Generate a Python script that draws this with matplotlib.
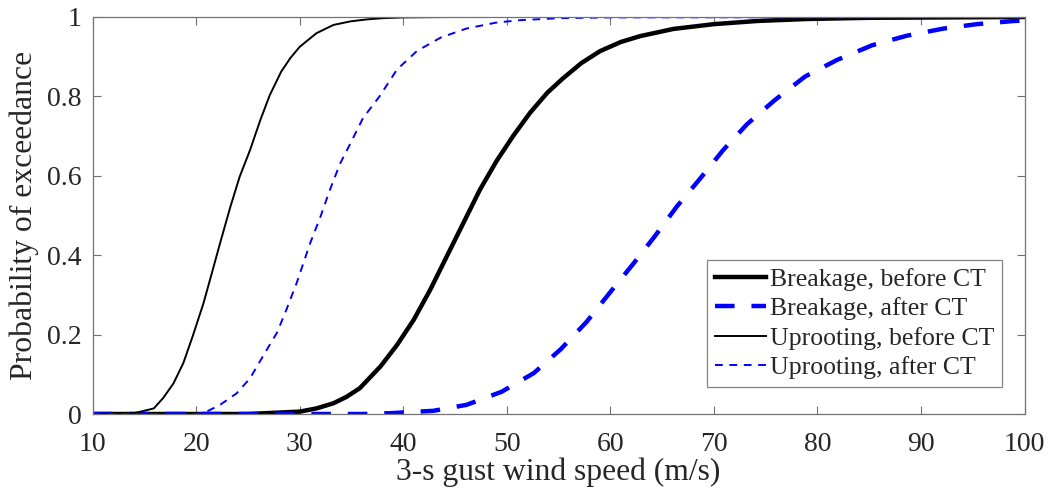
import matplotlib.pyplot as plt

# fragility curves, probability of exceedance vs 3-s gust wind speed
speed_break_before = [10, 25, 30, 31.6, 33.25, 34.5, 35.8, 37.8, 39.4, 41.0, 42.6, 44.2, 45.8, 47.4, 49.0, 50.6,
                      52.25, 53.9, 55.4, 57.2, 59.0, 61.0, 62.9, 66.1, 70.0, 74.2, 79, 85, 100]
prob_break_before = [0, 0, 0.006, 0.014, 0.027, 0.043, 0.065, 0.12, 0.174, 0.237, 0.313, 0.397, 0.481, 0.565, 0.637, 0.70,
                     0.759, 0.809, 0.845, 0.884, 0.914, 0.937, 0.952, 0.97, 0.982, 0.99, 0.995, 0.998, 1.0]

speed_break_after = [10, 36, 38.7, 42.9, 46.1, 49.5, 52.6, 55.2, 57.7, 59.9, 62.2, 64.3, 66.4, 68.7,
                     70.9, 73.2, 75.8, 78.8, 81.9, 85.3, 88.65, 92.2, 95.4, 99, 100]
prob_break_after = [0, 0, 0.002, 0.008, 0.023, 0.056, 0.103, 0.163, 0.232, 0.304, 0.378, 0.448, 0.522, 0.594,
                    0.665, 0.730, 0.789, 0.85, 0.892, 0.929, 0.953, 0.971, 0.982, 0.990, 0.991]

speed_uproot_before = [10, 14, 15.9, 16.8, 17.8, 18.75, 19.7, 20.7, 21.5, 22.3, 23.3, 24.2, 25.2, 26.2,
                       27.1, 28.2, 29.1, 30.0, 31.6, 33.25, 34.9, 36.5, 38.0, 40, 45, 100]
prob_uproot_before = [0, 0.002, 0.014, 0.040, 0.077, 0.128, 0.199, 0.279, 0.354, 0.43, 0.522, 0.598, 0.665, 0.741,
                      0.803, 0.862, 0.897, 0.925, 0.959, 0.980, 0.989, 0.994, 0.997, 0.999, 1.0, 1.0]

speed_uproot_after = [10, 20, 21, 22.3, 23.9, 25.2, 26.5, 27.8, 28.7, 29.7, 31.0, 32.0, 32.9, 33.9, 34.9,
                      36.1, 37.7, 39.4, 41.3, 43.6, 46.1, 49.0, 51.3, 55, 60, 100]
prob_uproot_after = [0, 0.0, 0.006, 0.023, 0.052, 0.09, 0.148, 0.205, 0.262, 0.33, 0.43, 0.497, 0.564, 0.631, 0.682,
                     0.745, 0.8, 0.868, 0.914, 0.948, 0.971, 0.986, 0.992, 0.997, 0.999, 1.0]

labels = ['Breakage, before CT', 'Breakage, after CT', 'Uprooting, before CT', 'Uprooting, after CT']

plt.rcParams['font.family'] = ['Liberation Serif', 'DejaVu Serif']

fig = plt.figure(figsize=(10.52, 5.0), dpi=100)
ax = fig.add_axes([0.0881, 0.172, 0.8858, 0.794])

ax.plot(speed_break_before, prob_break_before, color='black', lw=3.2, label=labels[0])
ax.plot(speed_break_after, prob_break_after, color='blue', lw=3.2, dashes=(4.4, 3.8), label=labels[1])
ax.plot(speed_uproot_before, prob_uproot_before, color='black', lw=1.4, label=labels[2])
ax.plot(speed_uproot_after, prob_uproot_after, color='blue', lw=1.4, dashes=(4.0, 3.4), label=labels[3])

ax.set_xlim(10, 100)
ax.set_ylim(0, 1)
ax.set_xticks(range(10, 101, 10))
ax.set_yticks([0, 0.2, 0.4, 0.6, 0.8, 1])
ax.set_yticklabels(['0', '0.2', '0.4', '0.6', '0.8', '1'])

axcol = '#262626'
for s in ax.spines.values():
    s.set_color('0.45')
    s.set_linewidth(0.9)
ax.tick_params(direction='in', length=6, width=0.8, color='0.45', labelcolor=axcol,
               labelsize=20, top=True, right=True)
ax.tick_params(axis='x', pad=13)
ax.tick_params(axis='y', pad=8)

ax.set_xlabel('3-s gust wind speed (m/s)', fontsize=22.8, color=axcol, labelpad=0)
ax.set_ylabel('Probability of exceedance', fontsize=22.8, color=axcol, labelpad=6)

leg = ax.legend(loc='lower right', bbox_to_anchor=(0.976, 0.068), fontsize=18.5, frameon=True,
                fancybox=False, handlelength=2.0, handletextpad=0.15, borderpad=0.3,
                labelspacing=0.25, borderaxespad=0)
leg.get_frame().set_edgecolor('0.4')
leg.get_frame().set_linewidth(0.9)
for t in leg.get_texts():
    t.set_color(axcol)

fig.savefig('out.png', dpi=100)
